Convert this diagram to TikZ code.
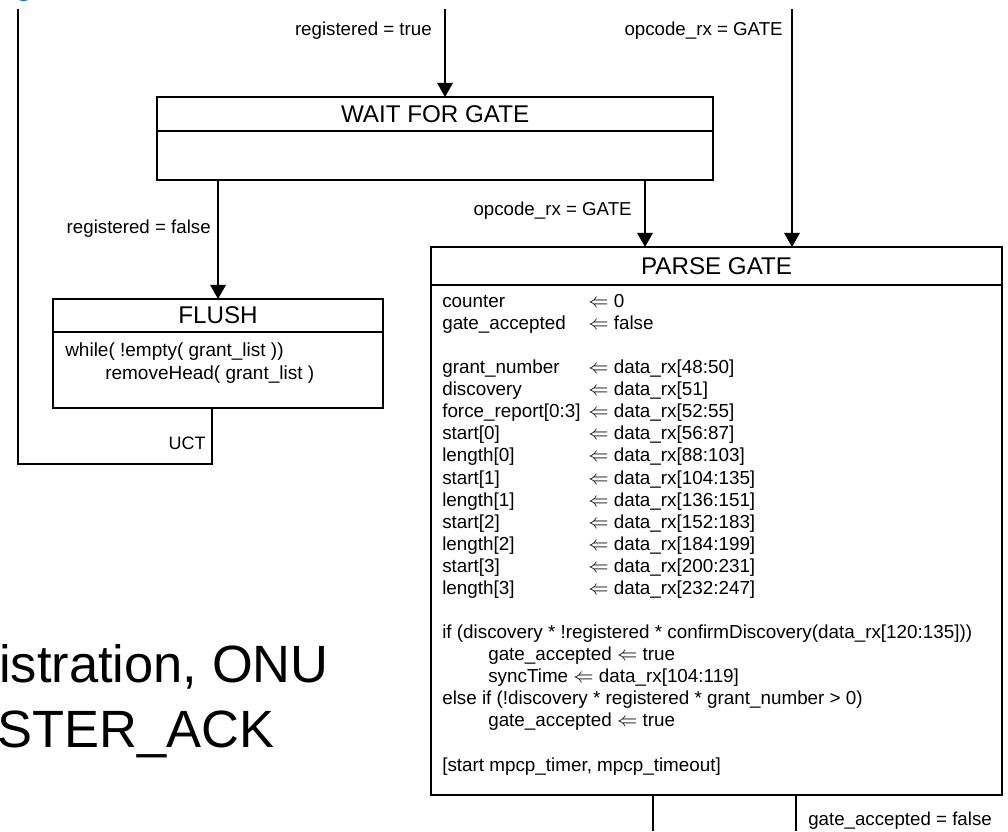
\documentclass[tikz,border=0pt]{standalone}
\usepackage{fontspec}
\setmainfont{Liberation Sans}
\usepackage{tikz}
\usetikzlibrary{arrows.meta,positioning,calc}

\newcommand{\asg}{$\Leftarrow$}
\newcommand{\fld}[1]{\makebox[3.65cm][l]{#1}}

\begin{document}
\begin{tikzpicture}[x=0.025cm, y=-0.025cm,
  box/.style={draw, line width=1.1pt, inner sep=0pt, outer sep=0pt},
  title/.style={box, font=\fontsize{17.2}{20}\selectfont},
  wire/.style={line width=1.1pt},
  arr/.style={wire, -{Triangle[width=11pt,length=10pt]}},
  lbl/.style={inner sep=0pt, font=\fontsize{13.3}{16}\selectfont},
  code/.style={inner sep=0pt, align=left}]
\useasboundingbox (0,0) rectangle (1008,831);
% slide leftovers
\fill[blue!60!cyan] (23.5,-6) ellipse (9 and 7);
\node[inner sep=0pt, anchor=base west, font=\fontsize{37.3}{40}\selectfont] (bigA) at (-1,682) {istration, ONU};
\node[inner sep=0pt, anchor=base west, font=\fontsize{37.3}{40}\selectfont] (bigB) at (-3,747) {STER\_ACK};
% states
\node[title, anchor=north west, minimum width=13.9cm, minimum height=0.85cm] (waitT) at (157,97) {WAIT FOR GATE};
\node[box, below=0pt of waitT, minimum width=13.9cm, minimum height=1.225cm] (waitB) {};
\node[title, anchor=north west, minimum width=8.25cm, minimum height=0.825cm] (flushT) at (53,299) {FLUSH};
\node[box, below=0pt of flushT, minimum width=8.25cm, minimum height=1.9cm] (flushB) {};
\node[title, anchor=north west, minimum width=14.275cm, minimum height=0.95cm] (parseT) at (431,247) {PARSE GATE};
\node[box, below=0pt of parseT, minimum width=14.275cm, minimum height=12.75cm] (parseB) {};
% state actions (base = last line)
\node[code, anchor=base west, font=\fontsize{13.5}{16.3}\selectfont] (flushTxt) at (65,379)
  {while( !empty( grant\_list ))\\ \hspace*{1cm}removeHead( grant\_list )};
\node[code, anchor=base west, font=\fontsize{13.4}{15.7}\selectfont] (parseTxt) at (442,771)
  {\fld{counter}\asg{} 0\\
   \fld{gate\_accepted}\asg{} false\\[15.7pt]
   \fld{grant\_number}\asg{} data\_rx[48:50]\\
   \fld{discovery}\asg{} data\_rx[51]\\
   \fld{force\_report[0:3]}\asg{} data\_rx[52:55]\\
   \fld{start[0]}\asg{} data\_rx[56:87]\\
   \fld{length[0]}\asg{} data\_rx[88:103]\\
   \fld{start[1]}\asg{} data\_rx[104:135]\\
   \fld{length[1]}\asg{} data\_rx[136:151]\\
   \fld{start[2]}\asg{} data\_rx[152:183]\\
   \fld{length[2]}\asg{} data\_rx[184:199]\\
   \fld{start[3]}\asg{} data\_rx[200:231]\\
   \fld{length[3]}\asg{} data\_rx[232:247]\\[15.7pt]
   if (discovery * !registered * confirmDiscovery(data\_rx[120:135]))\\
   \hspace*{1.15cm}gate\_accepted \asg{} true\\
   \hspace*{1.15cm}syncTime \asg{} data\_rx[104:119]\\
   else if (!discovery * registered * grant\_number > 0)\\
   \hspace*{1.15cm}gate\_accepted \asg{} true\\[15.7pt]
   {[}start mpcp\_timer, mpcp\_timeout]};
% ends of the lines
\coordinate (inTrue) at (445,9);
\coordinate (inGate) at (792,9);
\coordinate (gateX) at (645,0);
\coordinate (uctX) at (212,464);
\coordinate (loopC) at (18,464);
\coordinate (loopTop) at (18,9);
\coordinate (exitA) at (653,831);
\coordinate (exitB) at (796,831);
% transitions
\draw[arr] (inTrue) -- (inTrue |- waitT.north);
\draw[arr] (inGate) -- (inGate |- parseT.north);
\draw[arr] (waitB.south -| flushT.north) -- (flushT.north);
\draw[arr] (waitB.south -| gateX) -- (parseT.north -| gateX);
\draw[wire] (flushB.south -| uctX) -- (uctX) -- (loopC) -- (loopTop);
\draw[wire] (parseB.south -| exitA) -- (exitA);
\draw[wire] (parseB.south -| exitB) -- (exitB);
% conditions
\node[lbl, anchor=east] (cTrue) at (432,31) {registered = true};
\node[lbl, anchor=east] (cGateTop) at (783,31) {opcode\_rx = GATE};
\node[lbl, anchor=east] (cFalse) at (211,229) {registered = false};
\node[lbl, anchor=east] (cGate) at (632,211) {opcode\_rx = GATE};
\node[lbl, anchor=east, font=\fontsize{12.8}{15}\selectfont] (cUct) at (206,443) {UCT};
\node[lbl, anchor=west] (cReject) at (808,821) {gate\_accepted = false};
\end{tikzpicture}
\end{document}
